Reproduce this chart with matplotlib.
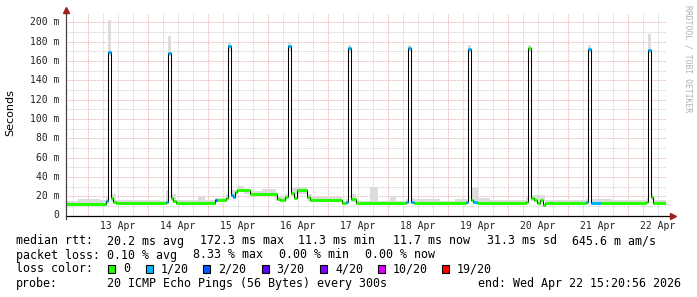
import matplotlib

matplotlib.use("Agg")

import matplotlib.pyplot as plt
import numpy as np

# Median RTT (ms) as a step series; times are days since 12 Apr 00:00.
med_t = [
    0.640, 1.303, 1.340, 1.385, 1.420, 1.478,
    2.303, 2.340, 2.385, 2.428, 2.478,
    3.128, 3.162, 3.312, 3.340, 3.385, 3.420, 3.462, 3.495, 3.712,
    4.162, 4.212, 4.295, 4.340, 4.385, 4.445, 4.495, 4.662, 4.712,
    5.245, 5.303, 5.340, 5.385, 5.478,
    6.303, 6.340, 6.385, 6.445,
    7.303, 7.340, 7.385, 7.428, 7.495,
    8.303, 8.340, 8.385, 8.445, 8.495, 8.545, 8.587, 8.628,
    9.303, 9.340, 9.385, 9.560,
    10.303, 10.340, 10.385, 10.428, 10.640,
]
med_v = [
    12.0, 15.0, 169.0, 18.0, 14.0, 12.6,
    14.0, 168.0, 18.5, 15.0, 12.6,
    16.0, 16.0, 18.5, 175.0, 21.0, 19.0, 24.0, 26.0, 22.0,
    17.0, 16.0, 19.0, 175.0, 23.0, 18.0, 26.0, 19.0, 16.5,
    12.6, 14.0, 173.0, 17.0, 12.6,
    14.0, 173.0, 14.0, 12.6,
    14.0, 172.0, 16.0, 14.0, 12.6,
    14.0, 173.0, 18.0, 16.0, 13.0, 16.0, 11.0, 12.6,
    14.0, 172.0, 13.0, 12.6,
    14.0, 171.0, 19.0, 12.6, 12.6,
]
# loss class index per step (0 -> "0", 1 -> "1/20", 2 -> "2/20" ...)
med_loss = [
    0, 1, 1, 0, 0, 0,
    1, 1, 0, 0, 0,
    2, 0, 0, 1, 1, 1, 0, 0, 0,
    0, 0, 0, 1, 0, 0, 0, 0, 0,
    0, 1, 1, 0, 0,
    1, 1, 1, 0,
    1, 1, 0, 1, 0,
    0, 0, 0, 0, 0, 0, 0, 0,
    1, 1, 1, 0,
    0, 1, 0, 0, 0,
]

# Smoke (spread of the individual pings), ms
smoke_t = [
    0.640, 0.845, 1.212, 1.303, 1.340, 1.385, 1.478,
    2.212, 2.303, 2.340, 2.385, 2.478, 2.845, 2.962,
    3.128, 3.312, 3.340, 3.385, 3.495, 3.612, 3.712, 3.912,
    4.145, 4.295, 4.340, 4.385, 4.478, 4.662, 4.745,
    5.245, 5.303, 5.340, 5.385, 5.478, 5.712, 5.845,
    6.045, 6.145, 6.303, 6.340, 6.385, 6.445, 6.878,
    7.128, 7.303, 7.340, 7.385, 7.512, 7.712,
    8.303, 8.340, 8.385, 8.628,
    9.303, 9.340, 9.385, 9.745,
    10.303, 10.340, 10.385, 10.428, 10.640,
]
smoke_lo = [
    11, 11, 11, 13, 165, 14, 11.5,
    11.5, 12.5, 165, 15, 11.5, 11.5, 11.5,
    14, 17, 170, 18, 24, 22, 21, 21,
    15, 17, 170, 20, 22, 15, 15,
    11.5, 12, 168, 14, 11.5, 11.5, 11.5,
    11.5, 11.5, 12, 169, 12, 11.5, 11.5,
    11.5, 12, 168, 14, 11.5, 11.5,
    12, 169, 15, 11.5,
    12, 168, 12, 11.5,
    12, 168, 16, 11.5, 11.5,
]
smoke_hi = [
    15, 17.5, 16, 19, 202, 22, 16,
    15, 26, 186, 22, 16, 19.5, 16,
    18, 22, 180, 26, 31, 27, 25, 27,
    19, 22, 178, 28, 30, 22, 19,
    15, 17, 176, 22, 15, 30, 15,
    20, 15, 17, 176, 18, 17, 15,
    17, 17, 176, 28, 18, 16,
    20, 176, 21, 16,
    17, 176, 17, 16,
    18, 188, 22, 16, 16,
]

loss_labels = ["0", "1/20", "2/20", "3/20", "4/20", "10/20", "19/20"]
loss_colors = ["#26ff00", "#00b8ff", "#0059ff", "#5e00ff", "#7e00ff", "#dd00ff", "#ff0000"]

day_ticks = [1, 2, 3, 4, 5, 6, 7, 8, 9, 10]
day_labels = ["13 Apr", "14 Apr", "15 Apr", "16 Apr", "17 Apr",
              "18 Apr", "19 Apr", "20 Apr", "21 Apr", "22 Apr"]

stats_rtt = ["20.2 ms avg", "172.3 ms max", "11.3 ms min", "11.7 ms now",
             "31.3 ms sd", "645.6 m am/s"]
stats_loss = ["0.10 % avg", "8.33 % max", "0.00 % min", "0.00 % now"]

W, H = 697, 297
MONO = "DejaVu Sans Mono"

fig = plt.figure(figsize=(W / 100, H / 100), dpi=100)
fig.patch.set_facecolor("white")

# plot area in pixels
left, right, bottom, top = 66.0, 666.0, 215.5, 13.0
ax = fig.add_axes([left / W, 1 - bottom / H, (right - left) / W, (bottom - top) / H])
ax.set_xlim(0.6395, 10.6395)
ax.set_ylim(0, 209.5)
for s in ax.spines.values():
    s.set_visible(False)
ax.set_xticks([])
ax.set_yticks([])

dots = (0, (0.72, 0.72))
# grid: minor grey, major pinkish red
for v in np.arange(10, 200, 20):
    ax.axhline(v, color="#cfcfcf", lw=0.72, ls=dots, zorder=0)
for v in np.arange(20, 201, 20):
    ax.axhline(v, color="#e6b0b0", lw=0.72, ls=dots, zorder=0.5)
for d in np.arange(0.75, 10.64, 0.25):
    if abs(d - round(d)) > 1e-6:
        ax.axvline(d, color="#cfcfcf", lw=0.72, ls=dots, zorder=0)
for d in day_ticks:
    ax.axvline(d, color="#e6b0b0", lw=0.72, ls=dots, zorder=0.5)

# smoke
ax.fill_between(smoke_t, smoke_lo, smoke_hi, step="post", color="#dcdcdc",
                lw=0, zorder=1)

# median: thin black step line, then loss-coloured segments on top
ax.step(med_t, med_v, where="post", color="black", lw=0.75, zorder=2)
for i in range(len(med_t) - 1):
    ax.hlines(med_v[i], med_t[i], med_t[i + 1], color=loss_colors[med_loss[i]],
              lw=2.2, zorder=3)

# axis lines with arrows
ax.plot([0, 1.012], [0, 0], transform=ax.transAxes, color="black", lw=0.9,
        clip_on=False, zorder=4)
ax.plot([0, 0], [-0.015, 1.01], transform=ax.transAxes, color="#444444", lw=0.9,
        clip_on=False, zorder=4)
ax.plot([1.012], [0], transform=ax.transAxes, marker=">", ms=4, color="#a02020",
        clip_on=False, zorder=5)
ax.plot([0], [1.015], transform=ax.transAxes, marker="^", ms=4, color="#a02020",
        clip_on=False, zorder=5)

# tick labels
for v in range(0, 201, 20):
    lab = "0" if v == 0 else f"{v} m"
    ax.text(-0.011, v, lab, transform=ax.get_yaxis_transform(), ha="right",
            va="center", fontsize=7, family=MONO, color="#222222")
for d, lab in zip(day_ticks, day_labels):
    ax.text(d + 0.5, -0.05, lab, transform=ax.get_xaxis_transform(), ha="center",
            va="center", fontsize=7, family=MONO, color="#222222")

fig.text(10 / W, 1 - 113 / H, "Seconds", rotation=90, ha="center", va="center",
         fontsize=8, family="DejaVu Sans")
fig.text(688 / W, 1 - 5 / H, "RRDTOOL / TOBI OETIKER", rotation=270, ha="center",
         va="top", fontsize=5.8, family=MONO, color="#b0b0b0")


def put(x, y, s):
    fig.text(x / W, 1 - y / H, s, ha="left", va="center", fontsize=8.4, family=MONO)


# legend block
put(16, 241, "median rtt:")
for x, s in zip([107, 200, 298, 393, 486.7, 572], stats_rtt):
    put(x, 241, s)
put(16, 255, "packet loss:")
for x, s in zip([107, 193.3, 279.3, 365], stats_loss):
    put(x, 255, s)
put(16, 269, "loss color:")
box_x = [108.3, 145.7, 203.3, 261.7, 320, 377.7, 442]
for x, c, lab in zip(box_x, loss_colors, loss_labels):
    fig.patches.append(plt.Rectangle((x / W, 1 - 273 / H), 7 / W, 8 / H,
                                     transform=fig.transFigure, facecolor=c,
                                     edgecolor="black", lw=0.8))
    put(x + 15, 269, lab)
put(16, 283, "probe:")
put(107, 283, "20 ICMP Echo Pings (56 Bytes) every 300s")
put(478.3, 283, "end: Wed Apr 22 15:20:56 2026")

fig.savefig("out.png", dpi=100)
